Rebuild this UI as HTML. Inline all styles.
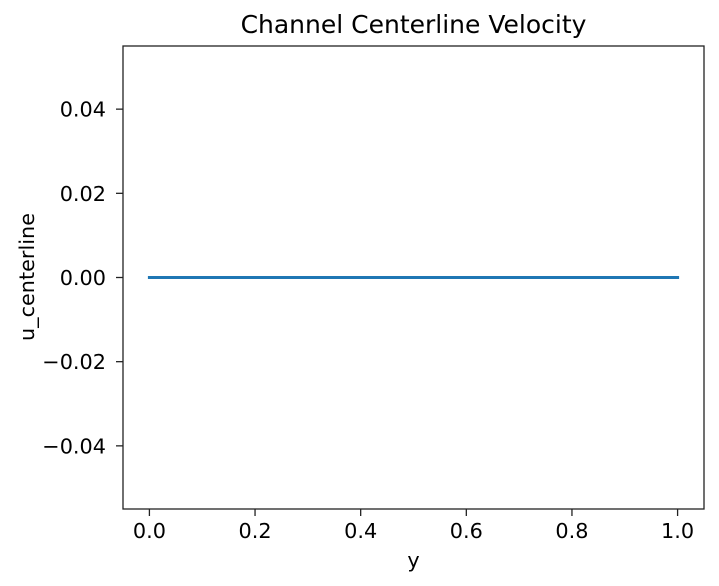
<!DOCTYPE html>
<html>
<head>
<meta charset="utf-8">
<style>
  html,body{margin:0;padding:0;background:#fff;}
  svg{display:block;font-family:"DejaVu Sans","Liberation Sans",sans-serif;}
</style>
</head>
<body>
<svg id="chart" width="719" height="586" viewBox="0 0 719 586" xmlns="http://www.w3.org/2000/svg">
  <rect x="0" y="0" width="719" height="586" fill="#fff"/>
  <text x="413.5" y="33" text-anchor="middle" font-size="25" fill="#000">Channel Centerline Velocity</text>
  <text x="413.5" y="567" text-anchor="middle" font-size="20.8" fill="#000">y</text>
  <text x="34" y="277" text-anchor="middle" font-size="20.8" fill="#000" transform="rotate(-90 34 277)">u_centerline</text>
  <g id="xticks"></g>
  <g id="yticks"></g>
  <g id="series"></g>
  <rect x="123" y="46" width="581" height="463" fill="none" stroke="#222" stroke-width="1.3"/>
</svg>
<script>
const xTicks = [0.0, 0.2, 0.4, 0.6, 0.8, 1.0];
const xTickLabels = ["0.0", "0.2", "0.4", "0.6", "0.8", "1.0"];
const yTicks = [-0.04, -0.02, 0.0, 0.02, 0.04];
const yTickLabels = ["\u22120.04", "\u22120.02", "0.00", "0.02", "0.04"];
const seriesX = [0.0, 0.1, 0.2, 0.3, 0.4, 0.5, 0.6, 0.7, 0.8, 0.9, 1.0];
const seriesY = [0.0, 0.0, 0.0, 0.0, 0.0, 0.0, 0.0, 0.0, 0.0, 0.0, 0.0];

const NS = "http://www.w3.org/2000/svg";
const L = 123, R = 704, T = 46, B = 509;
const xMin = -0.05, xMax = 1.05, yMin = -0.055, yMax = 0.055;
function sx(v){ return L + (v - xMin) / (xMax - xMin) * (R - L); }
function sy(v){ return B - (v - yMin) / (yMax - yMin) * (B - T); }
function mk(tag, attrs){ const e = document.createElementNS(NS, tag); for (const k in attrs) e.setAttribute(k, attrs[k]); return e; }

const xg = document.getElementById('xticks');
xTicks.forEach((t, i) => {
  const x = sx(t);
  const ln = mk('line', {x1:x, x2:x, y1:B, y2:B+7, stroke:'#222', 'stroke-width':1.3});
  
  
  xg.appendChild(ln);
  const tx = mk('text', {x:x, y:538, 'text-anchor':'middle', 'font-size':20.8, fill:'#000'});
  
  
  tx.textContent = xTickLabels[i];
  xg.appendChild(tx);
});

const yg = document.getElementById('yticks');
yTicks.forEach((t, i) => {
  const y = sy(t);
  const ln = mk('line', {x1:L-7, x2:L, y1:y, y2:y, stroke:'#222', 'stroke-width':1.3});
  
  
  yg.appendChild(ln);
  const tx = mk('text', {x:L-17, y:y+7.5, 'text-anchor':'end', 'font-size':20.8, fill:'#000'});
  
  
  tx.textContent = yTickLabels[i];
  yg.appendChild(tx);
});

const sg = document.getElementById('series');
const pts = seriesX.map((v, i) => sx(v).toFixed(2) + ',' + sy(seriesY[i]).toFixed(2)).join(' ');
const pl = mk('polyline', {points:pts, fill:'none', stroke:'#1f77b4', 'stroke-width':3, 'stroke-linecap':'square'});


sg.appendChild(pl);
</script>
</body>
</html>
